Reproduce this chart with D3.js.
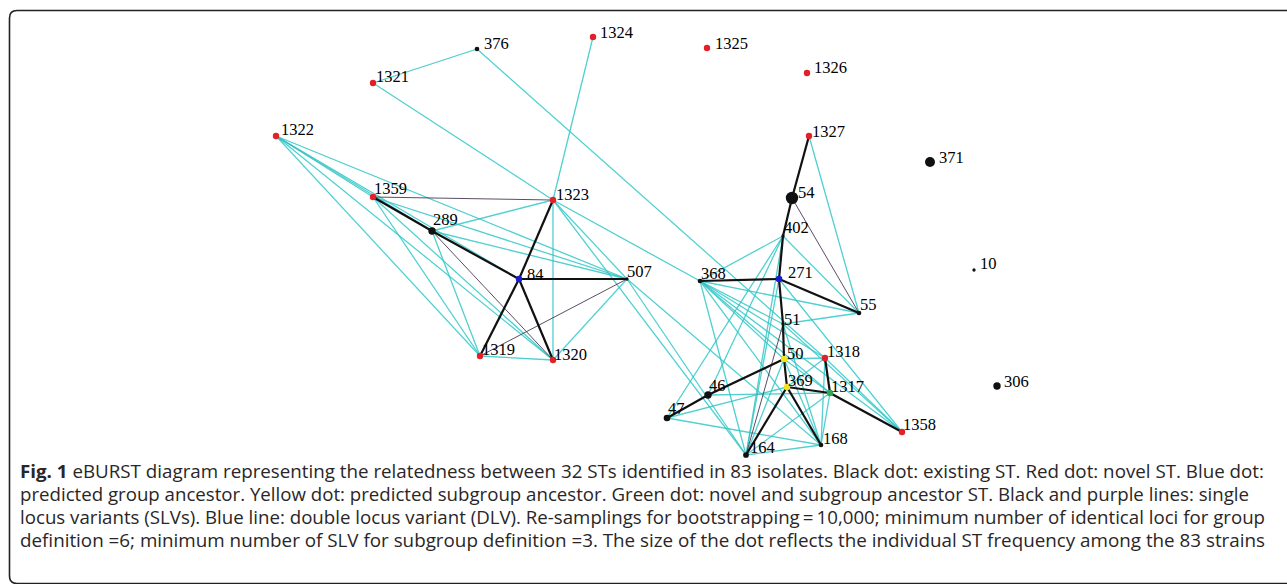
<!DOCTYPE html>
<html>
<head>
<meta charset="utf-8">
<script src="https://cdn.jsdelivr.net/npm/d3@7"></script>
<style>
  html, body { margin: 0; padding: 0; background: #fff; }
  svg { display: block; }
</style>
</head>
<body>
<svg id="fig" width="1287" height="584"></svg>
<script>
// Sequence types (STs) and their eBURST layout coordinates
const st = ["376","1324","1325","1326","1321","1322","1327","371","1359","1323",
            "54","289","402","10","84","507","368","271","55","51",
            "50","1318","1319","1320","46","369","1317","306","47","1358",
            "168","164"];
const layoutX = [477,593,707,807,373,276,809,930,373,553,
                 792,432,783,974,519,627,700,779,859,783,
                 784,825,480,553,708,787,830,997,667,902,
                 821,746];
const layoutY = [49,37,48,73,83,136,136,162,197,200,
                 198,231,236,270,279,279,281,279,313,324,
                 359,358,356,360,395,387,393,386,418,432,
                 445,455];
// number of isolates per ST (83 in total)
const freq = [2,1,1,1,1,1,1,9,1,1,
              14,5,1,1,3,1,2,4,2,1,
              3,1,1,1,5,3,1,5,4,1,
              2,3];
// ST category
const kind = ["existing","novel","novel","novel","novel","novel","novel","existing","novel","novel",
              "existing","existing","existing","existing","group","existing","existing","group","existing","existing",
              "subgroup","novel","novel","novel","existing","subgroup","novelSubgroup","existing","existing","novel",
              "existing","existing"];

// single locus variant links (main tree)
const slvLinks = [["1359","289"],["289","84"],["84","1323"],["84","507"],["84","1319"],["84","1320"],
                  ["1327","54"],["54","402"],["402","271"],["271","368"],["271","55"],["271","51"],
                  ["51","50"],["50","46"],["46","47"],["50","369"],["369","164"],["369","168"],
                  ["369","1317"],["1317","1318"],["1317","1358"]];
// single locus variant links (secondary)
const slvMinorLinks = [["1359","1323"],["289","1320"],["1319","507"],["54","55"],["51","164"]];
// double locus variant links
const dlvLinks = [["376","1321"],["376","1318"],["1321","1323"],["1324","1323"],
                  ["1322","1359"],["1322","289"],["1322","84"],["1322","1319"],["1322","1320"],["1322","507"],
                  ["1359","1319"],["1359","1320"],["1359","507"],
                  ["289","1323"],["289","507"],["289","1319"],
                  ["1323","1320"],["1323","507"],["1323","368"],["1323","164"],
                  ["1319","1320"],["1320","507"],["507","164"],["507","168"],
                  ["1327","55"],["402","368"],["402","55"],["402","46"],["402","47"],["402","164"],
                  ["368","55"],["368","51"],["368","1318"],["368","1358"],["368","168"],["368","164"],
                  ["368","1317"],["368","50"],["271","1358"],["271","164"],
                  ["51","55"],["51","1358"],["51","168"],
                  ["50","1318"],["50","168"],["50","1317"],["50","164"],
                  ["369","1318"],["369","47"],
                  ["1317","168"],["1317","164"],["1317","46"],
                  ["47","168"],["164","168"],["1318","1358"],["1318","168"]];

// caption lines
const captionLines = [
  ["Fig. 1", " eBURST diagram representing the relatedness between 32 STs identified in 83 isolates. Black dot: existing ST. Red dot: novel ST. Blue dot:"],
  ["", "predicted group ancestor. Yellow dot: predicted subgroup ancestor. Green dot: novel and subgroup ancestor ST. Black and purple lines: single"],
  ["", "locus variants (SLVs). Blue line: double locus variant (DLV). Re-samplings for bootstrapping\u2009=\u200910,000; minimum number of identical loci for group"],
  ["", "definition =6; minimum number of SLV for subgroup definition =3. The size of the dot reflects the individual ST frequency among the 83 strains"]
];

// ---------------------------------------------------------------------------
const svg = d3.select("#fig");

const nodes = st.map((id, i) => ({ id, x: layoutX[i], y: layoutY[i], f: freq[i], kind: kind[i] }));
const byId = new Map(nodes.map(n => [n.id, n]));

const xExt = d3.extent(layoutX), yExt = d3.extent(layoutY);
const x = d3.scaleLinear().domain(xExt).range(xExt);
const y = d3.scaleLinear().domain(yExt).range(yExt);
const r = d3.scaleSqrt().domain([0, 14]).range([0, 6.2]);

const fill = {
  existing: "#111111",
  novel: "#e3202a",
  group: "#1a1ad0",
  subgroup: "#f2e41a",
  novelSubgroup: "#33a852"
};
const radius = n => n.kind === "existing" ? r(n.f) : Math.max(r(n.f), 3.2);

// frame
svg.append("path")
  .attr("d", "M1300,10.5 L17,10.5 Q9.5,10.5 9.5,18 L9.5,576 Q9.5,583.5 17,583.5 L1300,583.5")
  .attr("fill", "none").attr("stroke", "#222").attr("stroke-width", 1.6);

const g = svg.append("g");

function drawLinks(list, stroke, width, opacity) {
  g.append("g").selectAll("line").data(list).join("line")
    .attr("x1", d => x(byId.get(d[0]).x)).attr("y1", d => y(byId.get(d[0]).y))
    .attr("x2", d => x(byId.get(d[1]).x)).attr("y2", d => y(byId.get(d[1]).y))
    .attr("stroke", stroke).attr("stroke-width", width).attr("stroke-opacity", opacity);
}

// DLV links: cyan with a faint darker core
drawLinks(dlvLinks, "#3ad8d8", 1.3, 0.85);
drawLinks(dlvLinks, "#4f8f90", 0.45, 0.5);
// secondary SLV links
drawLinks(slvMinorLinks, "#4a3a55", 1.0, 0.9);
// main SLV links
drawLinks(slvLinks, "#111", 2.2, 1);

// nodes
g.append("g").selectAll("circle").data(nodes).join("circle")
  .attr("cx", d => x(d.x)).attr("cy", d => y(d.y))
  .attr("r", radius)
  .attr("fill", d => fill[d.kind]);

// label placement relative to each dot
const labelShift = {
  "376":[7,0],"1324":[7,1],"1325":[8,1],"1326":[7,0],"1321":[3,-1],"1322":[5,-1],
  "1327":[3,1],"371":[9,1],"1359":[1,-3],"1323":[3,0],"54":[6,0],"289":[1,-6],
  "402":[1,-3],"10":[6,-1],"84":[8,1],"507":[0,-2],"368":[1,-2],"271":[9,-1],
  "55":[1,-3],"51":[1,1],"50":[3,0],"1318":[2,-1],"1319":[2,-1],"1320":[1,0],
  "46":[1,-4],"369":[1,-1],"1317":[1,-1],"306":[7,1],"47":[1,-4],"1358":[1,-2],
  "168":[2,-1],"164":[4,-2]
};
g.append("g").selectAll("text").data(nodes).join("text")
  .attr("x", d => x(d.x) + labelShift[d.id][0])
  .attr("y", d => y(d.y) + labelShift[d.id][1])
  .attr("font-family", "'Liberation Serif', 'Times New Roman', serif")
  .attr("font-size", 16.5)
  .attr("fill", "#000")
  .text(d => d.id);

// caption
const cap = svg.append("g")
  .attr("font-family", "'Open Sans', 'Noto Sans', sans-serif")
  .attr("font-size", 18)
  .attr("fill", "#2a2627");
const lineEnds = [1264, 1249, 1265, 1265];
captionLines.forEach((ln, i) => {
  const t = cap.append("text")
    .attr("x", 20).attr("y", 478 + i * 23)
    .attr("textLength", lineEnds[i] - 20)
    .attr("lengthAdjust", "spacingAndGlyphs");
  if (ln[0]) t.append("tspan").attr("font-weight", "bold").text(ln[0]);
  t.append("tspan").text(ln[1]);
});
</script>
</body>
</html>
